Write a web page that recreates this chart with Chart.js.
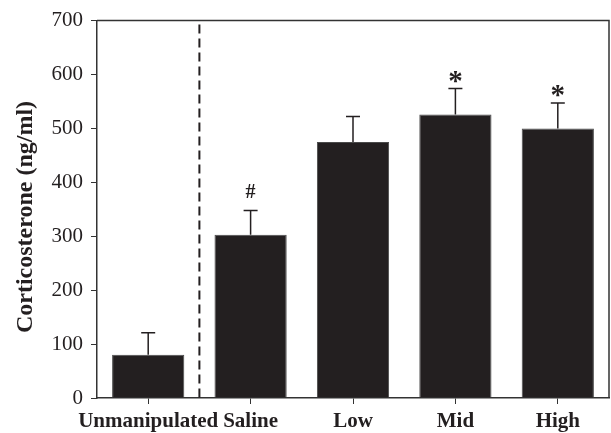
<!DOCTYPE html>
<html>
<head>
<meta charset="utf-8">
<script src="https://cdn.jsdelivr.net/npm/chart.js@4.4.1/dist/chart.umd.min.js"></script>
<style>
  html, body { margin: 0; padding: 0; background: #fff; }
  #wrap { width: 611px; height: 433px; }
</style>
</head>
<body>
<div id="wrap"><canvas id="chart" width="611" height="433"></canvas></div>
<script>
// Corticosterone by group
const groups  = ["Unmanipulated", "Saline", "Low", "Mid", "High"];
const means   = [80, 303, 475, 526, 500];
const errors  = [41, 45, 47, 48, 47];      // upward SEM
const marks   = ["", "#", "", "*", "*"];   // significance symbols
const yTicks  = [0, 100, 200, 300, 400, 500, 600, 700];
const yTitle  = "Corticosterone (ng/ml)";

const INK = "#231f20";
const SERIF = "'Liberation Serif', 'Times New Roman', serif";

// ── Extras: frame, dashed divider, error bars, symbols, y title ───────────
const extras = {
  id: "extras",
  afterDatasetsDraw(chart) {
    const { ctx, chartArea: a, scales: { x, y } } = chart;
    ctx.save();

    // top + right frame
    ctx.strokeStyle = "#333";
    ctx.lineWidth = 1.5;
    ctx.beginPath();
    ctx.moveTo(a.left, a.top);
    ctx.lineTo(a.right, a.top);
    ctx.lineTo(a.right, a.bottom);
    ctx.stroke();

    // dashed divider between first and second group
    const xd = (x.getPixelForValue(0) + x.getPixelForValue(1)) / 2;
    ctx.strokeStyle = INK;
    ctx.lineWidth = 2;
    ctx.setLineDash([9, 5]);
    ctx.beginPath();
    ctx.moveTo(xd, a.top + 4);
    ctx.lineTo(xd, a.bottom);
    ctx.stroke();
    ctx.setLineDash([]);

    // error bars (upward only) and symbols
    ctx.lineWidth = 1.5;
    ctx.fillStyle = INK;
    ctx.textAlign = "center";
    ctx.textBaseline = "alphabetic";
    means.forEach((m, i) => {
      const cx = x.getPixelForValue(i);
      const y0 = y.getPixelForValue(m);
      const y1 = y.getPixelForValue(m + errors[i]);
      ctx.beginPath();
      ctx.moveTo(cx, y0);
      ctx.lineTo(cx, y1);
      ctx.moveTo(cx - 7, y1);
      ctx.lineTo(cx + 7, y1);
      ctx.stroke();

      if (marks[i] === "#") {
        ctx.font = "bold 20px " + SERIF;
        ctx.fillText(marks[i], cx, y1 - 12);
      } else if (marks[i]) {
        ctx.font = "bold 29px " + SERIF;
        ctx.fillText(marks[i], cx, y1 + 1);
      }
    });

    // rotated y title
    ctx.translate(26, 217);
    ctx.rotate(-Math.PI / 2);
    ctx.textBaseline = "middle";
    ctx.font = "bold 24px " + SERIF;
    ctx.fillText(yTitle, 0, 0);
    ctx.restore();
  }
};

new Chart(document.getElementById("chart"), {
  type: "bar",
  data: {
    labels: groups,
    datasets: [{
      data: means,
      backgroundColor: INK,
      borderColor: "#4a4a4a",
      borderWidth: 1,
      barPercentage: 0.82,
      categoryPercentage: 0.86,
    }],
  },
  options: {
    responsive: false,
    animation: false,
    layout: { padding: { top: 19, right: 2, left: 0, bottom: 0 } },
    plugins: { legend: { display: false }, tooltip: { enabled: false } },
    scales: {
      x: {
        offset: true,
        grid: { offset: false, drawOnChartArea: false, drawTicks: true, tickLength: 6, color: "#333" },
        border: { color: "#333", width: 1.5 },
        ticks: {
          color: INK, padding: 5, autoSkip: false, maxRotation: 0, minRotation: 0,
          font: { family: SERIF, size: 21, weight: "bold" },
        },
        afterFit(s) { s.height = 35; },
      },
      y: {
        min: 0,
        max: 700,
        afterBuildTicks(s) { s.ticks = yTicks.map(v => ({ value: v })); },
        grid: { drawOnChartArea: false, drawTicks: true, tickLength: 6, color: "#333" },
        border: { color: "#333", width: 1.5 },
        ticks: { color: INK, padding: 8, font: { family: SERIF, size: 21 } },
        afterFit(s) { s.width = 97; },
      },
    },
  },
  plugins: [extras],
});
</script>
</body>
</html>
